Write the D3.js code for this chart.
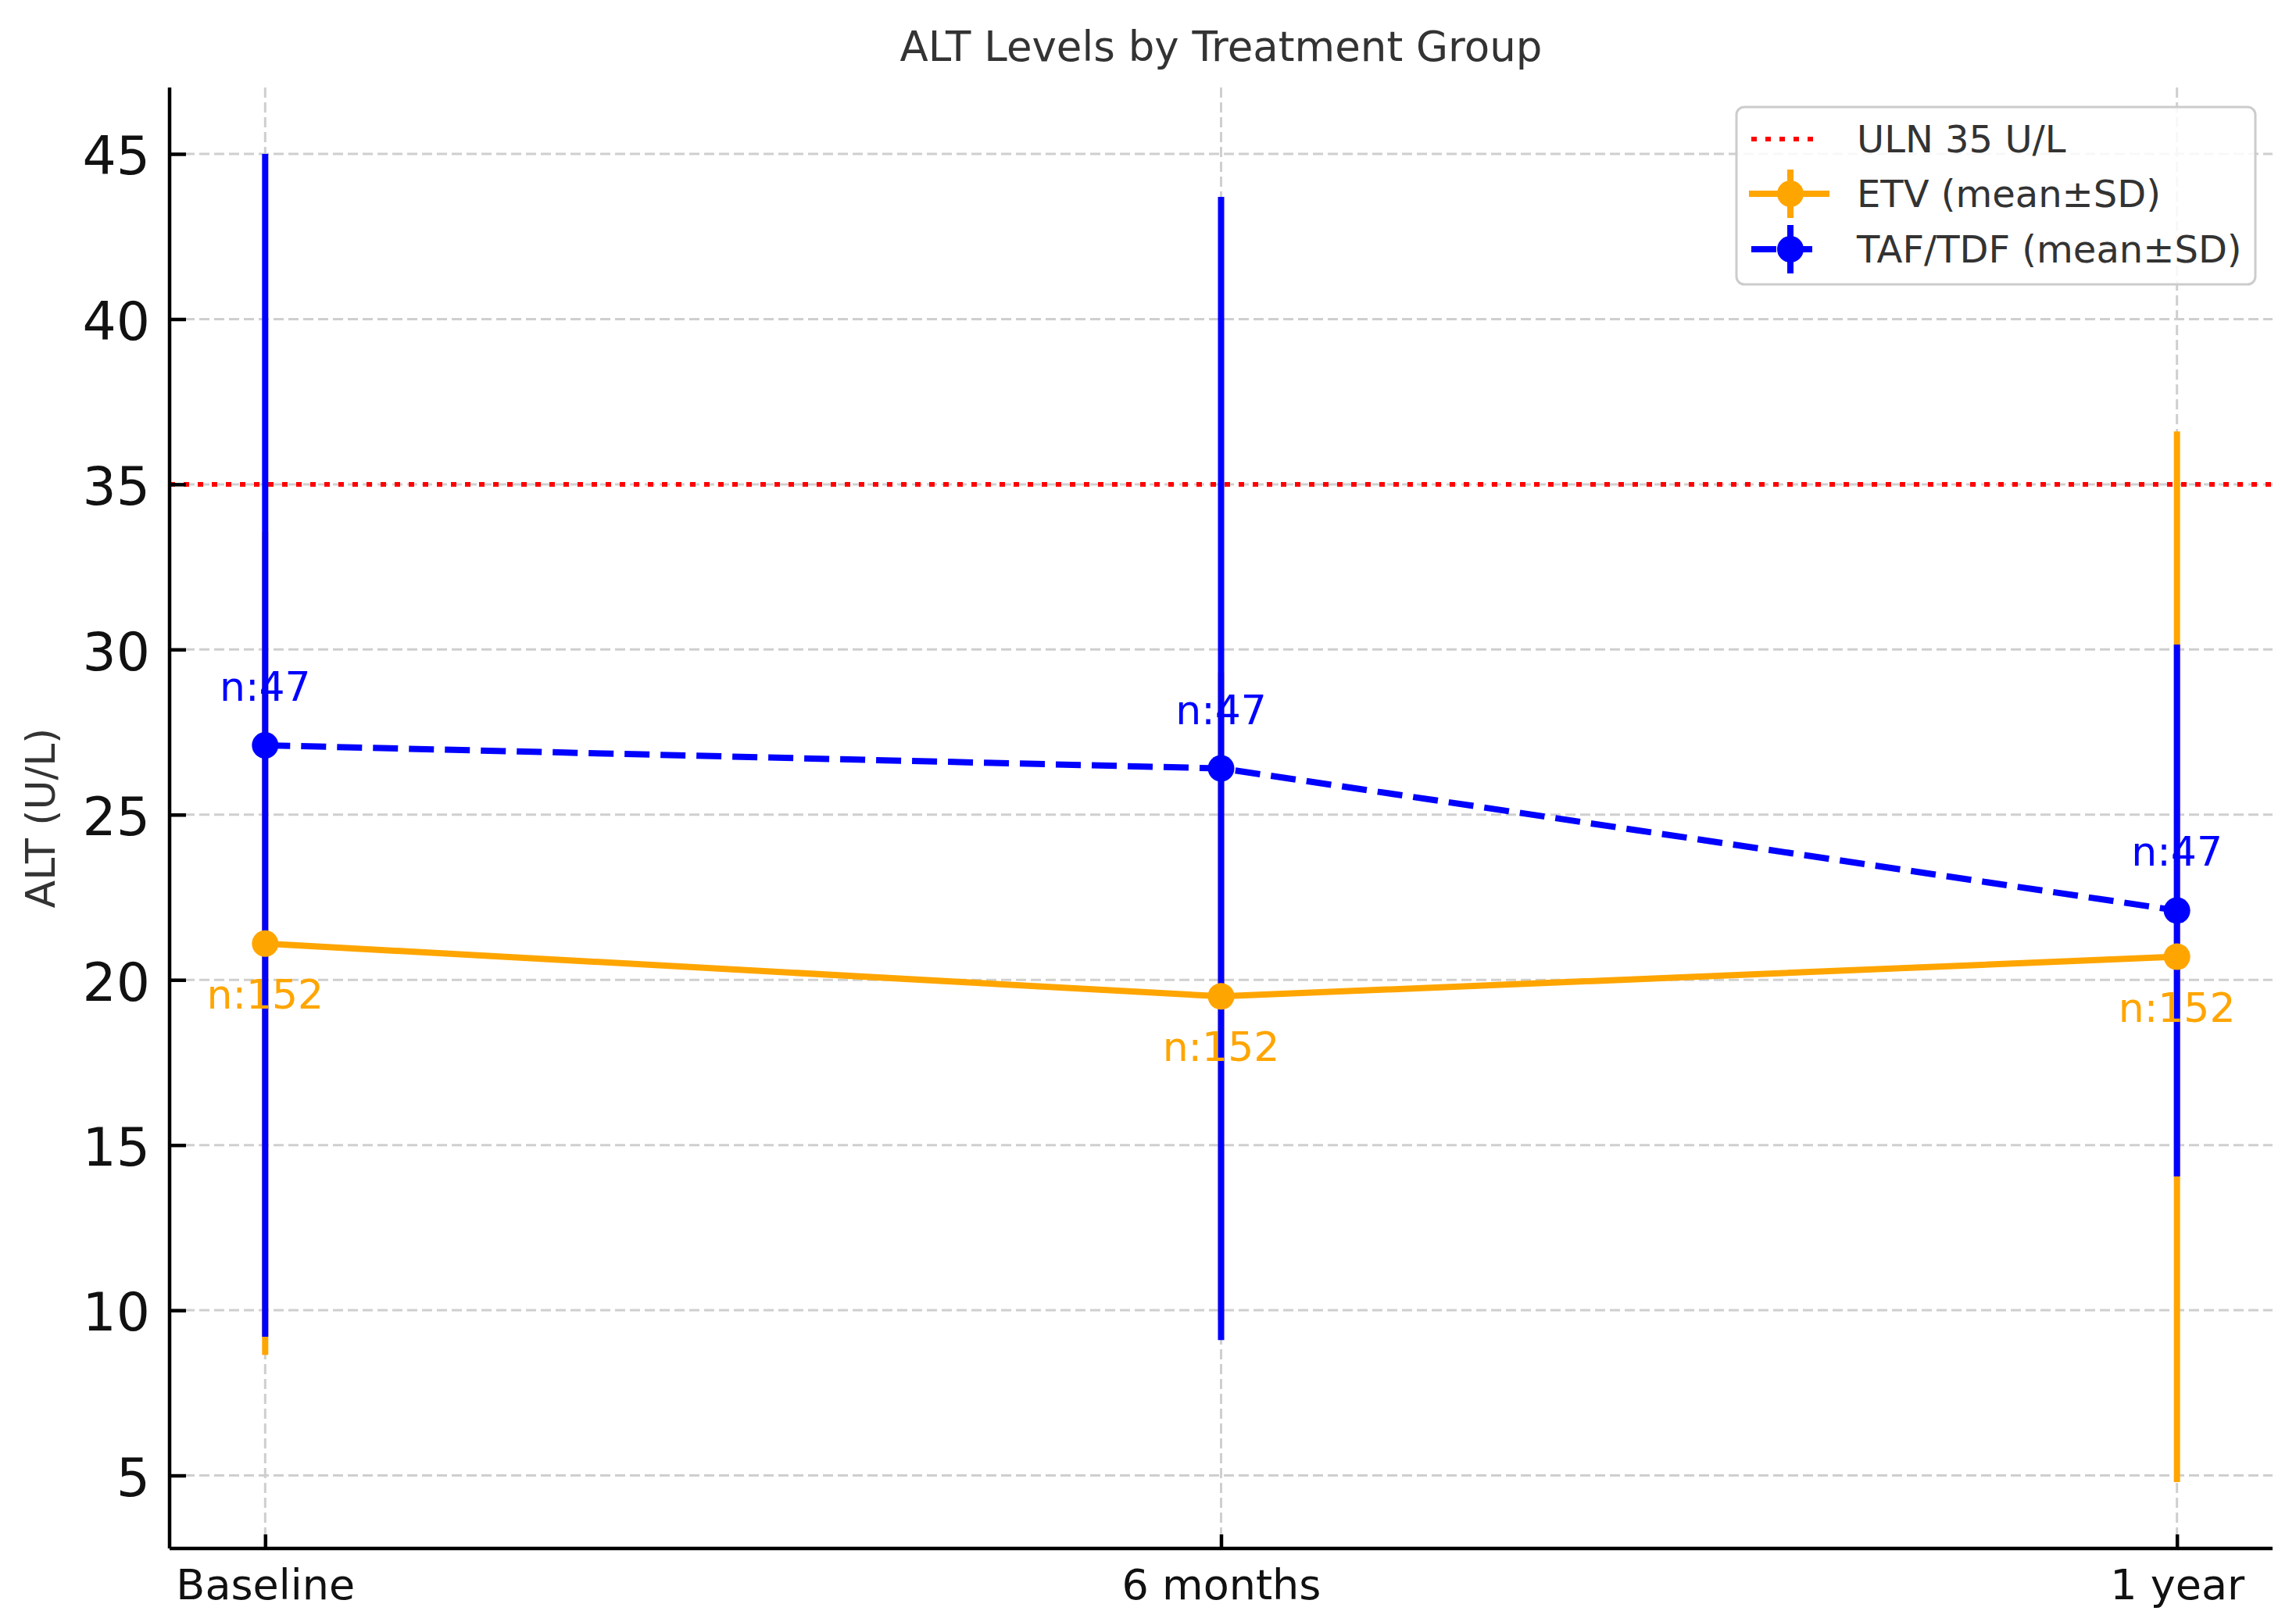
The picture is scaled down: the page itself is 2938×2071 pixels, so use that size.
<!DOCTYPE html>
<html>
<head>
<meta charset="utf-8">
<script src="https://cdn.jsdelivr.net/npm/d3@7"></script>
<style>
  html, body { margin: 0; padding: 0; background: #fff; }
  svg { display: block; font-family: "DejaVu Sans", sans-serif; }
</style>
</head>
<body>
<script>
// ---- data ----
const categories = ["Baseline", "6 months", "1 year"];
const etvMean = [21.1, 19.5, 20.7];
const etvSD   = [12.45, 9.8, 15.9];
const tafMean = [27.1, 26.4, 22.1];
const tafSD   = [17.9, 17.3, 8.05];
const etvN = [152, 152, 152];
const tafN = [47, 47, 47];
const yTicks = [5, 10, 15, 20, 25, 30, 35, 40, 45];
const uln = 35;
const legendLabels = ["ULN 35 U/L", "ETV (mean\u00B1SD)", "TAF/TDF (mean\u00B1SD)"];

(function () {
// ---- layout ----
const W = 2938, H = 2071;
const pL = 217, pR = 2908, pT = 112, pB = 1982;
const ORANGE = "orange", BLUE = "blue", RED = "red";

const svg = d3.select("body").append("svg").attr("width", W).attr("height", H);

const idx = categories.map((d, i) => i);
const x = d3.scaleLinear().domain([-0.1, categories.length - 1 + 0.1]).range([pL, pR]);

const lows = etvMean.map((m, i) => m - etvSD[i]).concat(tafMean.map((m, i) => m - tafSD[i]));
const highs = etvMean.map((m, i) => m + etvSD[i]).concat(tafMean.map((m, i) => m + tafSD[i]));
const lo = d3.min(lows), hi = d3.max(highs), pad = (hi - lo) * 0.05;
const y = d3.scaleLinear().domain([lo - pad, hi + pad]).range([pB, pT]);

// ---- grid ----
const grid = svg.append("g");
grid.selectAll("line.gy").data(yTicks).join("line")
  .attr("x1", pL).attr("x2", pR)
  .attr("y1", d => y(d)).attr("y2", d => y(d))
  .attr("stroke", "#cfcfcf").attr("stroke-width", 3).attr("stroke-dasharray", "13,6");
grid.selectAll("line.gx").data(idx).join("line")
  .attr("x1", d => x(d)).attr("x2", d => x(d))
  .attr("y1", pT).attr("y2", pB)
  .attr("stroke", "#cfcfcf").attr("stroke-width", 3).attr("stroke-dasharray", "13,6");

// ---- ULN line ----
svg.append("line")
  .attr("x1", pL).attr("x2", pR)
  .attr("y1", y(uln)).attr("y2", y(uln))
  .attr("stroke", RED).attr("stroke-width", 6).attr("stroke-dasharray", "7,11");

// ---- error bars ----
function bars(mean, sd, color) {
  svg.append("g").selectAll("line").data(idx).join("line")
    .attr("x1", d => x(d)).attr("x2", d => x(d))
    .attr("y1", d => y(mean[d] - sd[d])).attr("y2", d => y(mean[d] + sd[d]))
    .attr("stroke", color).attr("stroke-width", 8);
}
bars(etvMean, etvSD, ORANGE);
bars(tafMean, tafSD, BLUE);

// ---- lines ----
function line(mean, color, dash) {
  const gen = d3.line().x(d => x(d)).y(d => y(mean[d]));
  svg.append("path").datum(idx).attr("d", gen)
    .attr("fill", "none").attr("stroke", color).attr("stroke-width", 8)
    .attr("stroke-dasharray", dash || null);
}
line(etvMean, ORANGE);
line(tafMean, BLUE, "32,14");

// ---- markers ----
function markers(mean, color) {
  svg.append("g").selectAll("circle").data(idx).join("circle")
    .attr("cx", d => x(d)).attr("cy", d => y(mean[d])).attr("r", 17)
    .attr("fill", color);
}
markers(etvMean, ORANGE);
markers(tafMean, BLUE);

// ---- n labels ----
svg.append("g").selectAll("text").data(idx).join("text")
  .attr("x", d => x(d)).attr("y", d => y(tafMean[d]) - 57)
  .attr("text-anchor", "middle").attr("font-size", 52).attr("fill", BLUE)
  .text(d => "n:" + tafN[d]);
svg.append("g").selectAll("text").data(idx).join("text")
  .attr("x", d => x(d)).attr("y", d => y(etvMean[d]) + 83)
  .attr("text-anchor", "middle").attr("font-size", 52).attr("fill", ORANGE)
  .text(d => "n:" + etvN[d]);

// ---- axes ----
const yAxis = d3.axisLeft(y).tickValues(yTicks).tickSize(-21).tickPadding(25).tickFormat(d3.format("d"));
const gy = svg.append("g").attr("transform", `translate(${pL},0)`).call(yAxis);
gy.select(".domain").attr("stroke", "#000").attr("stroke-width", 4.5).attr("d", `M0,${pT}V${pB}`);
gy.selectAll(".tick line").attr("stroke", "#000").attr("stroke-width", 4.5);
gy.selectAll(".tick text").attr("font-size", 68).attr("fill", "#111").attr("font-family", "DejaVu Sans").attr("dy", "0.38em");

const xAxis = d3.axisBottom(x).tickValues(idx).tickSize(-18).tickPadding(27).tickFormat(d => categories[d]);
const gx = svg.append("g").attr("transform", `translate(0,${pB})`).call(xAxis);
gx.select(".domain").attr("stroke", "#000").attr("stroke-width", 4.5).attr("d", `M${pL},0H${pR}`);
gx.selectAll(".tick line").attr("stroke", "#000").attr("stroke-width", 4.5);
gx.selectAll(".tick text").attr("font-size", 54).attr("fill", "#111").attr("font-family", "DejaVu Sans");

// ---- title & labels ----
svg.append("text").attr("x", (pL + pR) / 2).attr("y", 78)
  .attr("text-anchor", "middle").attr("font-size", 53).attr("fill", "#333")
  .text("ALT Levels by Treatment Group");
svg.append("text").attr("transform", `translate(70,${(pT + pB) / 2}) rotate(-90)`)
  .attr("text-anchor", "middle").attr("font-size", 52).attr("fill", "#333")
  .text("ALT (U/L)");

// ---- legend ----
const lg = svg.append("g");
lg.append("rect").attr("x", 2222).attr("y", 137).attr("width", 664).attr("height", 227)
  .attr("rx", 10).attr("fill", "#fff").attr("fill-opacity", 0.85)
  .attr("stroke", "#cccccc").attr("stroke-width", 3);
const rowY = [178, 248, 319];
const hx1 = 2241, hx2 = 2341, hxc = (hx1 + hx2) / 2;
lg.append("line").attr("x1", hx1).attr("x2", hx2 - 16).attr("y1", rowY[0]).attr("y2", rowY[0])
  .attr("stroke", RED).attr("stroke-width", 6).attr("stroke-dasharray", "7,11");
lg.append("line").attr("x1", hx1 - 3).attr("x2", hx2).attr("y1", rowY[1]).attr("y2", rowY[1])
  .attr("stroke", ORANGE).attr("stroke-width", 8);
lg.append("line").attr("x1", hxc).attr("x2", hxc).attr("y1", rowY[1] - 31).attr("y2", rowY[1] + 31)
  .attr("stroke", ORANGE).attr("stroke-width", 8);
lg.append("circle").attr("cx", hxc).attr("cy", rowY[1]).attr("r", 17).attr("fill", ORANGE);
lg.append("line").attr("x1", hx1).attr("x2", hx2 - 19).attr("y1", rowY[2]).attr("y2", rowY[2])
  .attr("stroke", BLUE).attr("stroke-width", 8).attr("stroke-dasharray", "32,14");
lg.append("line").attr("x1", hxc).attr("x2", hxc).attr("y1", rowY[2] - 31).attr("y2", rowY[2] + 31)
  .attr("stroke", BLUE).attr("stroke-width", 8);
lg.append("circle").attr("cx", hxc).attr("cy", rowY[2]).attr("r", 17).attr("fill", BLUE);
lg.selectAll("text").data(legendLabels).join("text")
  .attr("x", 2376).attr("y", (d, i) => rowY[i] + 17)
  .attr("font-size", 48).attr("fill", "#333").text(d => d);
})();
</script>
</body>
</html>
